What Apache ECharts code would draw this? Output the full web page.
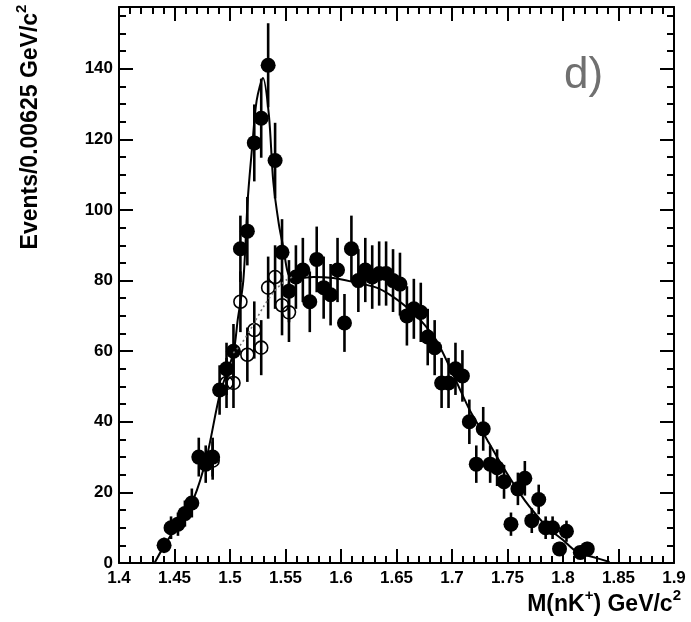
<!DOCTYPE html>
<html>
<head>
<meta charset="utf-8">
<script src="https://cdn.jsdelivr.net/npm/echarts@6/dist/echarts.min.js"></script>
<style>
  html, body { margin: 0; padding: 0; background: #fff; }
  #chart { width: 691px; height: 622px; }
</style>
</head>
<body>
<div id="chart"></div>
<script>
// Bin centres (GeV/c^2, bin width 0.00625) and event counts, all events
const massAll = [
  1.440625, 1.446875, 1.453125, 1.459375, 1.465625, 1.471875, 1.478125, 1.484375,
  1.490625, 1.496875, 1.503125, 1.509375, 1.515625, 1.521875, 1.528125, 1.534375,
  1.540625, 1.546875, 1.553125, 1.559375, 1.565625, 1.571875, 1.578125, 1.584375,
  1.590625, 1.596875, 1.603125, 1.609375, 1.615625, 1.621875, 1.628125, 1.634375,
  1.640625, 1.646875, 1.653125, 1.659375, 1.665625, 1.671875, 1.678125, 1.684375,
  1.690625, 1.696875, 1.703125, 1.709375, 1.715625, 1.721875, 1.728125, 1.734375,
  1.740625, 1.746875, 1.753125, 1.759375, 1.765625, 1.771875, 1.778125, 1.784375,
  1.790625, 1.796875, 1.803125, 1.815625, 1.821875
];
const countsAll = [
  5, 10, 11, 14, 17, 30, 28, 30,
  49, 55, 60, 89, 94, 119, 126, 141,
  114, 88, 77, 81, 83, 74, 86, 78,
  76, 83, 68, 89, 80, 83, 81, 82,
  82, 80, 79, 70, 72, 71, 64, 61,
  51, 51, 55, 53, 40, 28, 38, 28,
  27, 23, 11, 21, 24, 12, 18, 10,
  10, 4, 9, 3, 4
];
const errAll = [
  2.2, 3.2, 3.3, 3.7, 4.1, 5.5, 5.3, 5.5,
  7.0, 7.4, 7.7, 9.4, 9.7, 10.9, 11.2, 11.9,
  10.7, 9.4, 8.8, 9.0, 9.1, 8.6, 9.3, 8.8,
  8.7, 9.1, 8.2, 9.4, 8.9, 9.1, 9.0, 9.1,
  9.1, 8.9, 8.9, 8.4, 8.5, 8.4, 8.0, 7.8,
  7.1, 7.1, 7.4, 7.3, 6.3, 5.3, 6.2, 5.3,
  5.2, 4.8, 3.3, 4.6, 4.9, 3.5, 4.2, 3.2,
  3.2, 2.0, 3.0, 1.7, 2.0
];

// Selected sample in the peak region (open circles)
const massSel = [
  1.484375, 1.496875, 1.503125, 1.509375, 1.515625, 1.521875,
  1.528125, 1.534375, 1.540625, 1.546875, 1.553125
];
const countsSel = [29, 51, 51, 74, 59, 66, 61, 78, 81, 73, 71];
const errSel = [5.4, 7.1, 7.1, 8.6, 7.7, 8.1, 7.8, 8.8, 9.0, 8.5, 8.4];

// Fitted curve: peak + background
const fitMass = [
  1.432, 1.440, 1.455, 1.467, 1.479, 1.491, 1.503, 1.507, 1.512, 1.516,
  1.520, 1.524, 1.5297, 1.535, 1.539, 1.544, 1.548, 1.554, 1.563, 1.575,
  1.593, 1.611, 1.632, 1.647, 1.659, 1.671, 1.686, 1.7045, 1.716, 1.7315,
  1.746, 1.761, 1.770, 1.7856, 1.800, 1.8126, 1.827, 1.842
];
const fitVals = [
  0, 4.5, 12, 18, 30, 48, 59.5, 69, 80, 103,
  118, 131, 137.4, 127, 108, 96, 89.5, 81, 80.7, 81,
  80.7, 79.6, 78, 75.4, 72.5, 69, 63, 51, 43.3, 35,
  27.2, 19.8, 15.9, 10.2, 6.5, 3.1, 1.7, 0.3
];

// Background alone under the peak (dotted)
const bgMass = [1.503, 1.510, 1.520, 1.530, 1.540, 1.550, 1.556];
const bgVals = [59.5, 62, 67, 72.5, 77, 80, 81];

// Axis ranges
const xRange = [1.4, 1.9];
const yRange = [0, 157.5];

const FONT = '"Liberation Sans", Arial, Helvetica, sans-serif';

const zip3 = (a, b, c) => a.map((m, i) => [m, b[i], c[i]]);
const zip2 = (a, b) => a.map((m, i) => [m, b[i]]);

function errorBars(params, api) {
  const x = api.value(0), y = api.value(1), e = api.value(2);
  const lo = api.coord([x, y - e]);
  const hi = api.coord([x, y + e]);
  return {
    type: 'line',
    shape: { x1: lo[0], y1: lo[1], x2: hi[0], y2: hi[1] },
    style: { stroke: '#000', lineWidth: 2.6 }
  };
}

function xAxisDef(pos, labels) {
  return {
    type: 'value', position: pos, min: xRange[0], max: xRange[1], interval: 0.05,
    axisLine: { show: true, onZero: false, lineStyle: { color: '#000', width: 2 } },
    axisTick: { show: true, inside: true, length: 14, lineStyle: { color: '#000', width: 2 } },
    minorTick: { show: true, splitNumber: 5, length: 7, lineStyle: { color: '#000', width: 2 } },
    splitLine: { show: false },
    axisLabel: {
      show: labels, margin: 7, color: '#000', fontFamily: FONT, fontWeight: 'bold', fontSize: 17,
      formatter: v => String(+v.toFixed(2))
    }
  };
}
function yAxisDef(pos, step, tickLen, showLine, labels) {
  return {
    type: 'value', position: pos, min: yRange[0], max: yRange[1], interval: step,
    axisLine: { show: showLine, onZero: false, lineStyle: { color: '#000', width: 2 } },
    axisTick: { show: true, inside: true, length: tickLen, lineStyle: { color: '#000', width: 2 } },
    splitLine: { show: false },
    axisLabel: {
      show: labels, margin: 6, showMaxLabel: false, color: '#000',
      fontFamily: FONT, fontWeight: 'bold', fontSize: 17
    }
  };
}

const titleRich = {
  a: { fontFamily: FONT, fontWeight: 'bold', fontSize: 23, fill: '#000', lineHeight: 28, verticalAlign: 'bottom' },
  s: { fontFamily: FONT, fontWeight: 'bold', fontSize: 15, fill: '#000', lineHeight: 28, verticalAlign: 'top' }
};

const chart = echarts.init(document.getElementById('chart'), null, { renderer: 'canvas' });
chart.setOption({
  backgroundColor: '#fff',
  animation: false,
  grid: { left: 119, right: 17, top: 7, bottom: 59, containLabel: false },
  xAxis: [xAxisDef('bottom', true), xAxisDef('top', false)],
  yAxis: [
    yAxisDef('left', 20, 14, true, true),
    yAxisDef('left', 5, 7, false, false),
    yAxisDef('right', 20, 14, true, false),
    yAxisDef('right', 5, 7, false, false)
  ],
  series: [
    {
      type: 'custom', renderItem: errorBars, xAxisIndex: 0, yAxisIndex: 0,
      data: zip3(massAll, countsAll, errAll), encode: { x: 0, y: 1 }, z: 2
    },
    {
      type: 'scatter', xAxisIndex: 0, yAxisIndex: 0, symbol: 'circle', symbolSize: 15,
      itemStyle: { color: '#000', opacity: 1 }, data: zip2(massAll, countsAll), z: 3
    },
    {
      type: 'custom', renderItem: errorBars, xAxisIndex: 0, yAxisIndex: 0,
      data: zip3(massSel, countsSel, errSel), encode: { x: 0, y: 1 }, z: 2
    },
    {
      type: 'scatter', xAxisIndex: 0, yAxisIndex: 0, symbol: 'circle', symbolSize: 13,
      itemStyle: { color: 'rgba(0,0,0,0)', borderColor: '#000', borderWidth: 1.6, opacity: 1 },
      data: zip2(massSel, countsSel), z: 4
    },
    {
      type: 'line', xAxisIndex: 0, yAxisIndex: 0, showSymbol: false, smooth: 0.3,
      lineStyle: { color: '#000', width: 2 }, data: zip2(fitMass, fitVals), z: 5
    },
    {
      type: 'line', xAxisIndex: 0, yAxisIndex: 0, showSymbol: false, smooth: 0.3,
      lineStyle: { color: '#777', width: 1.6, type: [2, 3] }, data: zip2(bgMass, bgVals), z: 5
    }
  ],
  graphic: [
    {
      type: 'text', left: 564, top: 54,
      style: { text: 'd)', fontFamily: FONT, fontSize: 44, fontWeight: 'lighter', fill: '#707070' }
    },
    {
      type: 'text', x: 28, y: 127, rotation: Math.PI / 2,
      style: {
        text: '{a|Events/0.00625 GeV/c}{s|2}',
        align: 'center', verticalAlign: 'middle', rich: titleRich
      }
    },
    {
      type: 'text', x: 681, y: 602,
      style: {
        text: '{a|M(nK}{s|+}{a|) GeV/c}{s|2}',
        align: 'right', verticalAlign: 'middle', rich: titleRich
      }
    }
  ]
});
</script>
</body>
</html>
